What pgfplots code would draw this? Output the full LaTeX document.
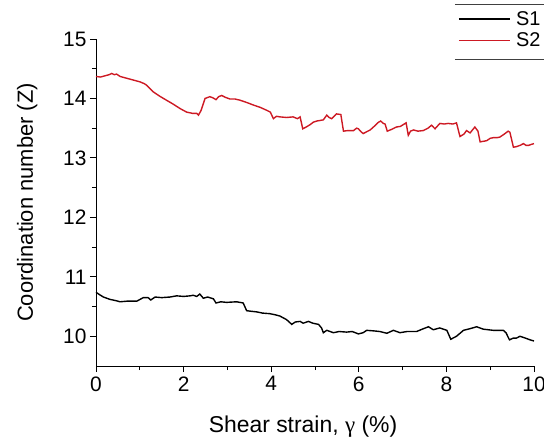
\documentclass[border=0pt]{standalone}
\usepackage{fontspec}
\setmainfont{Liberation Sans}
\newfontfamily\serifgreek{Liberation Serif}
\usepackage{pgfplots}
\pgfplotsset{compat=1.18}
\definecolor{sred}{RGB}{205,25,35}
\begin{document}
\begin{tikzpicture}
\begin{axis}[
  name=ax,
  scale only axis,
  width=438bp, height=327bp,
  xmin=0, xmax=10, ymin=9.5, ymax=15,
  axis x line*=bottom, axis y line*=left,
  axis line style={line width=1pt, black},
  xtick={0,2,...,10}, ytick={10,11,...,15},
  minor x tick num=1, minor y tick num=1,
  tick align=outside,
  major tick length=6bp, minor tick length=4bp,
  tick style={line width=1pt, black},
  /pgf/number format/assume math mode=true,
  ticklabel style={font=\fontsize{21}{24}\selectfont},
  xticklabel style={yshift=-1bp},
  xlabel={Shear strain, {\serifgreek γ} (\%)},
  ylabel={Coordination number (Z)},
  xlabel style={font=\fontsize{23}{26}\selectfont, yshift=-18bp, xshift=-12bp},
  ylabel style={font=\fontsize{22}{25}\selectfont, yshift=19bp},
  clip=false,
  legend style={draw=none, fill=none, at={(rel axis cs:0.8265,1.09)}, anchor=north west,
    font=\fontsize{20}{20}\selectfont, inner sep=0bp, row sep=3bp, column sep=4bp,
    nodes={inner sep=1.5bp}},
  legend cell align=left,
  legend image code/.code={\draw (2bp,0bp) -- (53bp,0bp);},
]
\addplot[black, line width=1.4pt] coordinates {
(0,10.74)(0.08,10.70)(0.17,10.66)(0.32,10.62)(0.45,10.60)(0.55,10.58)(0.70,10.59)(0.93,10.59)
(1.08,10.65)(1.19,10.65)(1.25,10.61)(1.35,10.66)(1.5,10.65)(1.69,10.66)(1.84,10.68)(2.0,10.67)
(2.15,10.68)(2.22,10.69)(2.30,10.67)(2.37,10.71)(2.45,10.64)(2.55,10.66)(2.68,10.63)(2.74,10.56)
(2.85,10.58)(2.98,10.57)(3.21,10.58)(3.36,10.56)(3.44,10.43)(3.55,10.42)(3.67,10.41)(3.80,10.39)
(3.97,10.38)(4.10,10.36)(4.20,10.34)(4.35,10.28)(4.47,10.20)(4.55,10.24)(4.66,10.25)(4.73,10.22)
(4.85,10.25)(4.95,10.22)(5.08,10.20)(5.15,10.14)(5.19,10.06)(5.27,10.10)(5.42,10.06)(5.55,10.08)
(5.72,10.07)(5.85,10.08)(5.99,10.04)(6.10,10.06)(6.18,10.10)(6.35,10.09)(6.48,10.08)(6.64,10.05)
(6.79,10.10)(6.94,10.06)(7.10,10.08)(7.32,10.08)(7.45,10.12)(7.59,10.16)(7.70,10.11)(7.85,10.14)
(8.01,10.10)(8.10,9.95)(8.23,10.00)(8.39,10.10)(8.55,10.13)(8.69,10.16)(8.84,10.12)(8.95,10.11)
(9.07,10.10)(9.30,10.10)(9.36,10.06)(9.44,9.94)(9.53,9.97)(9.60,9.97)(9.68,10.00)(9.80,9.97)
(9.91,9.94)(10.0,9.92)
};
\addlegendentry{S1}
\addplot[sred, line width=1.4pt] coordinates {
(0,14.37)(0.1,14.36)(0.2,14.38)(0.3,14.40)(0.36,14.42)(0.42,14.40)(0.47,14.41)(0.55,14.37)
(0.7,14.34)(0.85,14.31)(1.0,14.28)(1.1,14.25)(1.16,14.22)(1.31,14.11)(1.45,14.04)(1.61,13.97)
(1.75,13.91)(1.92,13.83)(2.07,13.77)(2.2,13.75)(2.30,13.75)(2.34,13.72)(2.40,13.80)(2.49,14.00)
(2.60,14.03)(2.67,14.01)(2.74,13.98)(2.8,14.03)(2.87,14.05)(2.95,14.02)(3.06,13.99)(3.18,13.99)
(3.29,13.97)(3.45,13.93)(3.59,13.89)(3.75,13.85)(3.90,13.80)(3.98,13.77)(4.05,13.66)(4.12,13.70)
(4.20,13.69)(4.35,13.68)(4.50,13.69)(4.60,13.66)(4.66,13.69)(4.72,13.49)(4.80,13.52)(4.89,13.56)
(4.96,13.60)(5.04,13.62)(5.19,13.64)(5.27,13.72)(5.32,13.68)(5.38,13.66)(5.49,13.74)(5.59,13.73)
(5.65,13.45)(5.75,13.46)(5.88,13.46)(5.95,13.50)(5.99,13.49)(6.05,13.44)(6.10,13.41)(6.26,13.47)
(6.38,13.55)(6.45,13.60)(6.50,13.62)(6.56,13.58)(6.60,13.57)(6.65,13.45)(6.75,13.48)(6.86,13.52)
(6.95,13.53)(7.08,13.59)(7.13,13.38)(7.18,13.45)(7.25,13.47)(7.35,13.45)(7.47,13.46)(7.58,13.50)
(7.66,13.55)(7.74,13.49)(7.85,13.58)(7.95,13.57)(8.04,13.58)(8.15,13.57)(8.23,13.59)(8.31,13.36)
(8.40,13.40)(8.46,13.46)(8.54,13.42)(8.65,13.52)(8.72,13.45)(8.77,13.27)(8.85,13.28)(8.92,13.29)
(9.0,13.33)(9.07,13.34)(9.15,13.34)(9.22,13.35)(9.32,13.40)(9.41,13.45)(9.45,13.43)(9.53,13.18)
(9.60,13.19)(9.68,13.21)(9.76,13.24)(9.82,13.21)(9.87,13.21)(9.95,13.23)(10.0,13.24)
};
\addlegendentry{S2}
\draw[line width=0.8pt, black!75] (rel axis cs:0.8196,1.107) -- (rel axis cs:1.05,1.107);
\draw[line width=0.8pt, black!75] (rel axis cs:0.8196,0.939) -- (rel axis cs:1.05,0.939);
\end{axis}
\pgfresetboundingbox
\path[use as bounding box] ([xshift=-96bp,yshift=-75bp]ax.south west) rectangle ([xshift=10bp,yshift=39bp]ax.north east);
\end{tikzpicture}
\end{document}
